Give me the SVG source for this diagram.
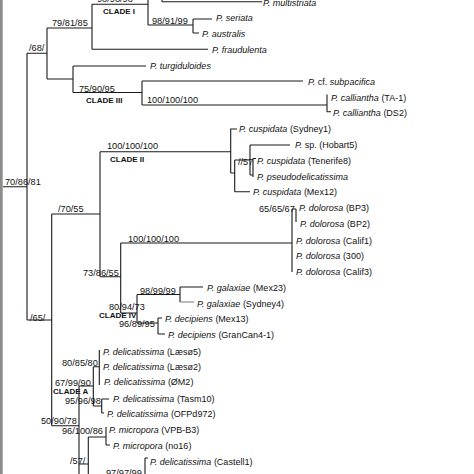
<svg xmlns="http://www.w3.org/2000/svg" width="474" height="474" viewBox="0 0 474 474">
<style>
.t{font-family:"Liberation Sans",Arial,sans-serif;font-size:9px;fill:#111}
.i{font-style:italic}
.n{font-family:"Liberation Sans",Arial,sans-serif;font-size:9.2px;fill:#111}
.c{font-family:"Liberation Sans",Arial,sans-serif;font-size:8px;font-weight:bold;fill:#111}
.br{fill:none;stroke:#1a1a1a;stroke-width:1.1}
.gr{fill:none;stroke:#777;stroke-width:1}
</style>
<rect x="0" y="0" width="474" height="474" fill="#fff"/>
<rect x="0" y="0" width="2.7" height="474" fill="#8c8c8c"/>
<g id="connectors">
<path class="br" d="M3,186.7H27M27,53.3V320M27,53.3H47M47,28V79M47,28H92M92,4.3V49.3M92,4.3H148M148,-5V25M148,-3H162M162,-8V1.7M162,1.7H262M148,25H193M193,19V33M193,19H212M193,33H199M92,49.3H208M47,79H73M73,66V92.5M73,66H146M73,92.5H142M142,81V105M142,81H303M142,105H327M327,94.5V111.7M327,111.7H331"/>
<path class="br" d="M27,320H51.7M51.7,214V425.7M51.7,214H100M100,151.7V276.7M100,151.7H230.7M230.7,128.5V173M230.7,129H237M230.7,173H234.7M234.7,160V191.7M234.7,191.7H250M234.7,160H250M250,145V175M250,145H290M250,175H253M253,158.5V177M253,158.5H256"/>
<path class="br" d="M100,276.7H120.7M120.7,243V313M120.7,243H292M292,209V272M292,209H296M296,209V222M120.7,313H137M137,294.5V323M137,294.5H180M180,287V302M180,287H203M137,323H158M158,318V334M158,318H162M158,334H165"/>
<path class="gr" d="M180,302H194"/>
<path class="br" d="M51.7,425.7H79M79,386V474M79,386H93.3M93.3,366.7V406M93.3,366.7H99.3M99.3,350V385M93.3,406H101.7M101.7,399V413M101.7,399H109M101.7,413H104M79,464H88.3M88.3,437V474M88.3,437H106M106,427V445M106,445H110M145,458V474M145,458H148"/>
</g>
<g id="support">
<text class="n" x="97" y="2">98/98/98</text>
<text class="c" x="103" y="13.5">CLADE I</text>
<text class="n" x="52" y="26">79/81/85</text>
<text class="n" x="152" y="24">98/91/99</text>
<text class="n" x="29" y="51">/68/</text>
<text class="n" x="79" y="91.5">75/90/95</text>
<text class="c" x="86" y="103">CLADE III</text>
<text class="n" x="147" y="103">100/100/100</text>
<text class="n" x="5" y="185">70/86/81</text>
<text class="n" x="107" y="148.5">100/100/100</text>
<text class="c" x="110" y="162">CLADE II</text>
<text class="n" x="238" y="165">//57</text>
<text class="n" x="259" y="212">65/65/67</text>
<text class="n" x="58" y="211.5">/70/55</text>
<text class="n" x="128" y="241.5">100/100/100</text>
<text class="n" x="83" y="276">73/86/55</text>
<text class="n" x="140" y="293.5">98/99/99</text>
<text class="n" x="109" y="310">80/94/73</text>
<text class="c" x="99" y="317.5">CLADE IV</text>
<text class="n" x="119" y="327">96/89/95</text>
<text class="n" x="30" y="320.5">/65/</text>
<text class="n" x="62" y="366">80/85/80</text>
<text class="n" x="55" y="385.5">67/99/90</text>
<text class="c" x="53" y="393.5">CLADE A</text>
<text class="n" x="65" y="404">95/96/98</text>
<text class="n" x="41" y="424">50/90/78</text>
<text class="n" x="62" y="434">96/100/86</text>
<text class="n" x="70" y="463.5">/57/</text>
<text class="n" x="106" y="475.5">97/97/99</text>
</g>
<g id="leaf-multistriata"><text class="t i" x="263" y="6">P. multistriata</text></g>
<g id="leaf-seriata"><text class="t i" x="216" y="21">P. seriata</text></g>
<g id="leaf-australis"><text class="t i" x="202" y="37">P. australis</text></g>
<g id="leaf-fraudulenta"><text class="t i" x="212" y="53">P. fraudulenta</text></g>
<g id="leaf-turgiduloides"><text class="t i" x="150" y="69">P. turgiduloides</text></g>
<g id="leaf-subpacifica"><text class="t" x="308" y="85"><tspan class="i">P.</tspan> cf. <tspan class="i">subpacifica</tspan></text></g>
<g id="leaf-calliantha-ta1"><text class="t" x="331" y="101"><tspan class="i">P. calliantha</tspan> (TA-1)</text></g>
<g id="leaf-calliantha-ds2"><text class="t" x="333" y="116"><tspan class="i">P. calliantha</tspan> (DS2)</text></g>
<g id="leaf-cuspidata-sydney1"><text class="t" x="239" y="132"><tspan class="i">P. cuspidata</tspan> (Sydney1)</text></g>
<g id="leaf-sp-hobart5"><text class="t" x="295" y="148"><tspan class="i">P.</tspan> sp. (Hobart5)</text></g>
<g id="leaf-cuspidata-tenerife8"><text class="t" x="257" y="164"><tspan class="i">P. cuspidata</tspan> (Tenerife8)</text></g>
<g id="leaf-pseudodelicatissima"><text class="t i" x="257" y="180">P. pseudodelicatissima</text></g>
<g id="leaf-cuspidata-mex12"><text class="t" x="253" y="195"><tspan class="i">P. cuspidata</tspan> (Mex12)</text></g>
<g id="leaf-dolorosa-bp3"><text class="t" x="299" y="211"><tspan class="i">P. dolorosa</tspan> (BP3)</text></g>
<g id="leaf-dolorosa-bp2"><text class="t" x="300" y="227"><tspan class="i">P. dolorosa</tspan> (BP2)</text></g>
<g id="leaf-dolorosa-calif1"><text class="t" x="296" y="244"><tspan class="i">P. dolorosa</tspan> (Calif1)</text></g>
<g id="leaf-dolorosa-300"><text class="t" x="296" y="259"><tspan class="i">P. dolorosa</tspan> (300)</text></g>
<g id="leaf-dolorosa-calif3"><text class="t" x="296" y="275"><tspan class="i">P. dolorosa</tspan> (Calif3)</text></g>
<g id="leaf-galaxiae-mex23"><text class="t" x="207" y="291"><tspan class="i">P. galaxiae</tspan> (Mex23)</text></g>
<g id="leaf-galaxiae-sydney4"><text class="t" x="197" y="307"><tspan class="i">P. galaxiae</tspan> (Sydney4)</text></g>
<g id="leaf-decipiens-mex13"><text class="t" x="165" y="322"><tspan class="i">P. decipiens</tspan> (Mex13)</text></g>
<g id="leaf-decipiens-grancan"><text class="t" x="168" y="338"><tspan class="i">P. decipiens</tspan> (GranCan4-1)</text></g>
<g id="leaf-delicatissima-laeso5"><text class="t" x="103" y="355"><tspan class="i">P. delicatissima</tspan> (Læsø5)</text></g>
<g id="leaf-delicatissima-laeso2"><text class="t" x="103" y="370"><tspan class="i">P. delicatissima</tspan> (Læsø2)</text></g>
<g id="leaf-delicatissima-om2"><text class="t" x="104" y="385"><tspan class="i">P. delicatissima</tspan> (ØM2)</text></g>
<g id="leaf-delicatissima-tasm10"><text class="t" x="113" y="402"><tspan class="i">P. delicatissima</tspan> (Tasm10)</text></g>
<g id="leaf-delicatissima-ofpd972"><text class="t" x="107" y="417"><tspan class="i">P. delicatissima</tspan> (OFPd972)</text></g>
<g id="leaf-micropora-vpb"><text class="t" x="109" y="433"><tspan class="i">P. micropora</tspan> (VPB-B3)</text></g>
<g id="leaf-micropora-no16"><text class="t" x="113" y="449"><tspan class="i">P. micropora</tspan> (no16)</text></g>
<g id="leaf-delicatissima-castell1"><text class="t" x="150" y="465"><tspan class="i">P. delicatissima</tspan> (Castell1)</text></g>
</svg>
